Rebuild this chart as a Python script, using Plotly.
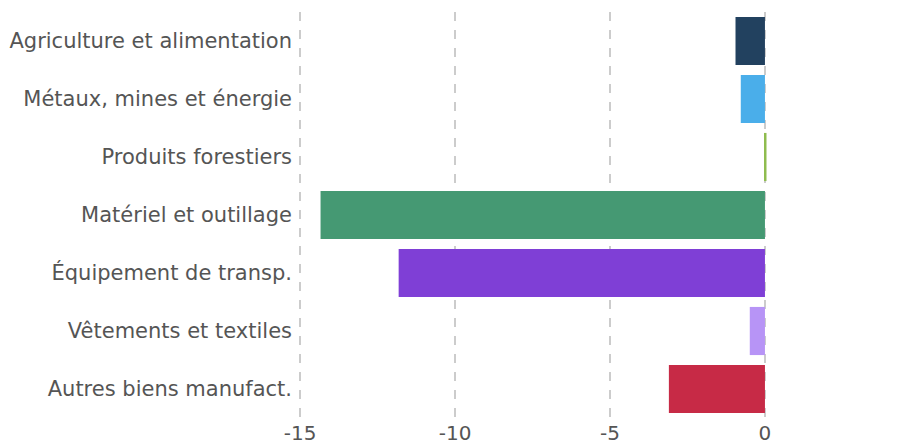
import plotly.graph_objects as go

categories = ["Agriculture et alimentation", "Métaux, mines et énergie", "Produits forestiers",
              "Matériel et outillage", "Équipement de transp.", "Vêtements et textiles",
              "Autres biens manufact."]
values = [-0.95, -0.78, 0.05, -14.34, -11.82, -0.49, -3.1]
colors = ["#22415f", "#4aaeea", "#8fbc4f", "#459973", "#7f3fd6", "#b794f6", "#c72a46"]
x_ticks = [-15, -10, -5, 0, 5]

fig = go.Figure(go.Bar(
    y=categories,
    x=values,
    orientation="h",
    marker=dict(color=colors, line=dict(width=0)),
    hoverinfo="x+y",
))

# page body adds ~8px offset, so margins are set relative to that
fig.update_layout(
    width=922, height=446,
    margin=dict(l=289, r=7, t=4, b=36),
    plot_bgcolor="white",
    paper_bgcolor="white",
    font=dict(family="DejaVu Sans", color="#555555"),
    bargap=0.17,
    showlegend=False,
)

# pad the range so the -15 and 5 gridlines still get drawn
fig.update_xaxes(
    range=[-15.1, 5.1],
    tickvals=x_ticks,
    ticktext=[str(t) for t in x_ticks],
    tickfont=dict(size=20),
    ticklabelstandoff=1,
    showgrid=True, gridcolor="#cccccc", griddash="dash", gridwidth=1.5,
    zeroline=False, showline=False,
    automargin=False,
)
fig.update_yaxes(
    categoryorder="array",
    categoryarray=categories[::-1],
    tickfont=dict(size=21),
    showgrid=False, zeroline=False, showline=False,
    ticklabelstandoff=4,
    automargin=False,
)

fig.write_html("out.html")
